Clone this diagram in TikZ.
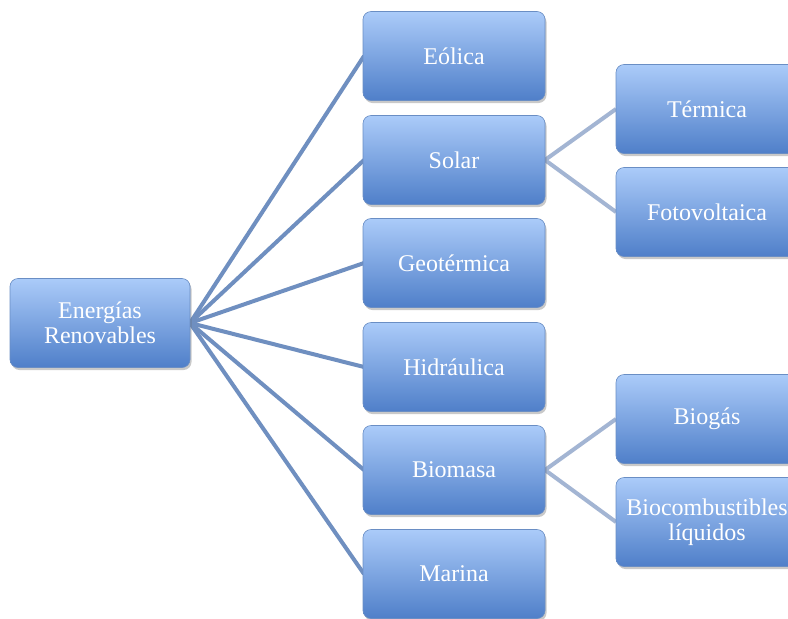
\documentclass[tikz,border=0pt]{standalone}
\usepackage{fontspec}
\setmainfont{Liberation Serif}
\usetikzlibrary{shadows}
\tikzset{
  box/.style={rounded corners=8pt, minimum width=182pt, minimum height=89pt,
    top color=boxtop, bottom color=boxbot, draw=boxedge, line width=0.6pt,
    drop shadow={shadow xshift=1.5pt, shadow yshift=-2.5pt, opacity=0.35, fill=black!60},
    text=white, font=\fontsize{24}{25}\selectfont, align=center, inner sep=1pt},
  linkA/.style={draw=linkone, line width=4pt},
  linkB/.style={draw=linktwo, line width=4pt}
}
\definecolor{boxtop}{HTML}{ABCBF9}
\definecolor{boxbot}{HTML}{4F7FC9}
\definecolor{boxedge}{HTML}{6A8EC4}
\definecolor{linkone}{HTML}{6F8FC0}
\definecolor{linktwo}{HTML}{A3B5D3}
\begin{document}
\begin{tikzpicture}[x=1pt,y=-1pt]
\useasboundingbox (0,0) rectangle (788,619);
\clip (0,0) rectangle (788,619);
\fill[white] (0,0) rectangle (788,619);
% links first
\coordinate (rootR) at (190,323);
\coordinate (solR) at (545,160);
\coordinate (bioR) at (545,470);
\draw[linkA] (rootR) -- (364,56);
\draw[linkA] (rootR) -- (364,160);
\draw[linkA] (rootR) -- (364,263);
\draw[linkA] (rootR) -- (364,367);
\draw[linkA] (rootR) -- (364,470);
\draw[linkA] (rootR) -- (364,574);
\draw[linkB] (solR) -- (616,109);
\draw[linkB] (solR) -- (616,212);
\draw[linkB] (bioR) -- (616,419);
\draw[linkB] (bioR) -- (616,522);
% nodes
\node[box, minimum width=180pt] (root) at (100,323) {Energías\\Renovables};
\node[box] (eol) at (454,56) {Eólica};
\node[box] (sol) at (454,160) {Solar};
\node[box] (geo) at (454,263) {Geotérmica};
\node[box] (hid) at (454,367) {Hidráulica};
\node[box] (bio) at (454,470) {Biomasa};
\node[box] (mar) at (454,574) {Marina};
\node[box] (ter) at (707,109) {Térmica};
\node[box] (fot) at (707,212) {Fotovoltaica};
\node[box] (biog) at (707,419) {Biogás};
\node[box] (bioc) at (707,522) {Biocombustibles\\líquidos};
\end{tikzpicture}
\end{document}
